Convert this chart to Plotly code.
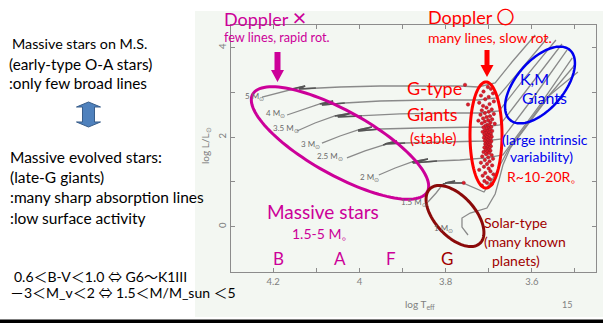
import numpy as np
import plotly.graph_objects as go

# ---------------- data: evolutionary tracks (log Teff, log L/Lsun) ----------------
track_masses = ["5", "4", "3.5", "3", "2.5", "2", "1.5", "1"]

teff_5 = [4.226, 4.189, 4.157, 4.126, 4.140, 4.101, 4.045, 3.952, 3.859, 3.767, 3.725, 3.685, 3.646, 3.592]
lum_5 = [2.898, 2.988, 3.077, 3.144, 3.077, 3.100, 3.122, 3.144, 3.144, 3.144, 3.122, 3.211, 3.680, 4.284]

teff_4 = [4.168, 4.126, 4.092, 4.061, 4.087, 4.034, 3.952, 3.836, 3.725, 3.681, 3.627, 3.562]
lum_4 = [2.496, 2.630, 2.742, 2.809, 2.720, 2.764, 2.809, 2.831, 2.831, 2.876, 3.502, 4.239]

teff_35 = [4.145, 4.103, 4.057, 4.017, 4.050, 3.994, 3.906, 3.790, 3.720, 3.676, 3.616, 3.544]
lum_35 = [2.139, 2.317, 2.474, 2.541, 2.452, 2.474, 2.519, 2.541, 2.541, 2.586, 3.324, 4.172]

teff_3 = [4.087, 4.045, 4.003, 3.971, 4.003, 3.952, 3.859, 3.767, 3.715, 3.674, 3.604, 3.530]
lum_3 = [1.870, 2.027, 2.161, 2.228, 2.139, 2.183, 2.206, 2.228, 2.228, 2.273, 3.144, 4.083]

teff_25 = [4.029, 3.987, 3.945, 3.913, 3.941, 3.894, 3.813, 3.743, 3.711, 3.669, 3.592, 3.518]
lum_25 = [1.536, 1.692, 1.825, 1.915, 1.848, 1.870, 1.893, 1.915, 1.915, 1.960, 2.943, 3.949]

teff_2 = [3.955, 3.917, 3.878, 3.841, 3.876, 3.820, 3.767, 3.706, 3.667, 3.581, 3.506]
lum_2 = [1.155, 1.312, 1.446, 1.513, 1.423, 1.468, 1.490, 1.536, 1.602, 2.720, 3.770]

teff_15 = [3.841, 3.822, 3.806, 3.778, 3.801, 3.760, 3.732, 3.711, 3.692, 3.674, 3.655, 3.569, 3.500]
lum_15 = [0.552, 0.753, 0.954, 1.021, 0.977, 0.977, 0.865, 0.775, 1.044, 1.379, 1.714, 2.831, 3.613]

teff_1 = [3.748, 3.762, 3.762, 3.743, 3.704, 3.685, 3.676, 3.667, 3.650, 3.558, 3.493]
lum_1 = [-0.185, -0.007, 0.194, 0.306, 0.418, 0.731, 1.044, 1.379, 1.759, 2.943, 3.457]

track_teff = [teff_5, teff_4, teff_35, teff_3, teff_25, teff_2, teff_15, teff_1]
track_lum = [lum_5, lum_4, lum_35, lum_3, lum_25, lum_2, lum_15, lum_1]
# index range of the main-sequence turn-off hook on each track
hook_ranges = [(2, 5), (2, 5), (2, 5), (2, 5), (2, 5), (2, 5), (2, 5), None]

# ---------------- data: G-type giant sample (log Teff, log L/Lsun) ----------------
giant_teff = [
    3.702, 3.695, 3.712, 3.690, 3.718, 3.700, 3.708, 3.688, 3.722, 3.698, 3.713, 3.705, 3.693, 3.716,
    3.700, 3.709, 3.688, 3.719, 3.697, 3.705, 3.713, 3.692, 3.701, 3.724, 3.709, 3.696, 3.716, 3.686,
    3.703, 3.698, 3.708, 3.694, 3.712, 3.701, 3.705, 3.697, 3.709, 3.692, 3.703, 3.714, 3.699, 3.706,
    3.695, 3.710, 3.702, 3.698, 3.707, 3.693, 3.704, 3.711, 3.700, 3.696, 3.706, 3.702, 3.709, 3.694,
    3.699, 3.705, 3.701, 3.697, 3.708, 3.703, 3.699, 3.706, 3.695, 3.702, 3.710, 3.698, 3.704, 3.700,
    3.707, 3.696, 3.703, 3.712, 3.699,
    3.706, 3.693, 3.715, 3.701, 3.690, 3.709, 3.698, 3.718, 3.704, 3.692, 3.711, 3.700, 3.722, 3.696,
    3.708, 3.689, 3.714, 3.702, 3.697, 3.710, 3.704, 3.693, 3.716,
    3.755, 3.748, 3.758,
]
giant_lum = [
    3.12, 3.08, 3.02, 2.98, 2.93, 2.90, 2.85, 2.80, 2.77, 2.74, 2.70, 2.66, 2.62, 2.60,
    2.57, 2.54, 2.52, 2.50, 2.47, 2.45, 2.42, 2.40, 2.38, 2.37, 2.35, 2.33, 2.31, 2.30,
    2.28, 2.26, 2.25, 2.23, 2.22, 2.20, 2.18, 2.17, 2.15, 2.14, 2.13, 2.12, 2.10, 2.09,
    2.07, 2.06, 2.05, 2.03, 2.02, 2.01, 2.00, 1.99, 1.97, 1.96, 1.95, 1.93, 1.92, 1.91,
    1.90, 1.88, 1.87, 1.86, 1.85, 1.83, 1.82, 1.81, 1.80, 1.78, 1.77, 1.76, 1.74, 1.72,
    1.71, 1.70, 1.68, 1.67, 1.65,
    1.62, 1.60, 1.57, 1.55, 1.52, 1.49, 1.46, 1.43, 1.40, 1.37, 1.34, 1.30, 1.27, 1.24,
    1.20, 1.17, 1.14, 1.10, 1.06, 1.02, 0.98, 0.95, 0.92,
    3.17, 2.73, 0.98,
]

# ---------------- axes ----------------
x_tickvals = [4.2, 4.0, 3.8, 3.6]
x_ticktext = ["4.2", "4", "3.8", "3.6"]
y_tickvals = [0, 2, 4]
y_ticktext = ["0", "2", "4"]

# ---------------- page geometry (pixels) ----------------
FIG_W, FIG_H = 603, 323
ML, MR, MT, MB = 231, 7, 25, 51
PW, PH = FIG_W - ML - MR, FIG_H - MT - MB

MAGENTA = "#cc0099"
RED = "#ff0000"
BLUE = "#0000ee"
DARKRED = "#a00000"
GRAY_TXT = "#808080"
TRACK = "#8a8a8a"
FONT = "Lato"
CJK = "Noto Sans CJK JP"


def to_paper(x, y):
    return (x - ML) / PW, (FIG_H - MB - y) / PH


def label(text, x, y, size, color, xanchor="center", angle=0, family=FONT):
    px, py = to_paper(x, y)
    return dict(text=text, x=px, y=py, xref="paper", yref="paper", showarrow=False,
                xanchor=xanchor, yanchor="middle", textangle=angle,
                font=dict(size=size, color=color, family=family))


def poly_path(points):
    pts = [to_paper(x, y) for x, y in points]
    return "M " + " L ".join(f"{a:.5f},{b:.5f}" for a, b in pts) + " Z"


def ellipse_path(cx, cy, a, b, ang_deg, n=120):
    t = np.linspace(0, 2 * np.pi, n, endpoint=False)
    c, s = np.cos(np.radians(ang_deg)), np.sin(np.radians(ang_deg))
    xs = cx + a * np.cos(t) * c - b * np.sin(t) * s
    ys = cy + a * np.cos(t) * s + b * np.sin(t) * c
    return poly_path(list(zip(xs, ys)))


def down_arrow(cx, y0, y1, head_len, shaft_w, head_w):
    hs, hh = shaft_w / 2, head_w / 2
    return poly_path([(cx - hs, y0), (cx + hs, y0), (cx + hs, y1 - head_len),
                      (cx + hh, y1 - head_len), (cx, y1), (cx - hh, y1 - head_len),
                      (cx - hs, y1 - head_len)])


def double_arrow(cx, y0, y1, head_len, shaft_w, head_w):
    hs, hh = shaft_w / 2, head_w / 2
    return poly_path([(cx, y0), (cx + hh, y0 + head_len), (cx + hs, y0 + head_len),
                      (cx + hs, y1 - head_len), (cx + hh, y1 - head_len), (cx, y1),
                      (cx - hh, y1 - head_len), (cx - hs, y1 - head_len),
                      (cx - hs, y0 + head_len), (cx - hh, y0 + head_len)])


fig = go.Figure()

# evolutionary tracks
for tx, ly in zip(track_teff, track_lum):
    fig.add_trace(go.Scatter(x=tx, y=ly, mode="lines", hoverinfo="skip",
                             line=dict(color=TRACK, width=1.3)))
for tx, ly, rng in zip(track_teff, track_lum, hook_ranges):
    if rng is None:
        continue
    i0, i1 = rng
    fig.add_trace(go.Scatter(x=tx[i0:i1 + 1], y=ly[i0:i1 + 1], mode="lines", hoverinfo="skip",
                             line=dict(color="#555555", width=1.4)))

# giant-star sample
fig.add_trace(go.Scatter(x=giant_teff, y=giant_lum, mode="markers", hoverinfo="skip",
                         marker=dict(size=3.4, color="#e01c28",
                                     line=dict(color="#9a1424", width=0.5))))

axis_common = dict(showline=True, linecolor="#8c8c8c", linewidth=1.3, mirror="ticks",
                   ticks="inside", ticklen=4, tickcolor="#8c8c8c", showgrid=False,
                   zeroline=False, tickfont=dict(size=9.5, color=GRAY_TXT, family=FONT))

fig.update_xaxes(range=[4.298, 3.451], tickmode="array", tickvals=x_tickvals,
                 ticktext=x_ticktext,
                 minor=dict(ticks="inside", ticklen=4, tickcolor="#8c8c8c",
                            tickvals=[4.1, 3.9, 3.7, 3.5], showgrid=False),
                 **axis_common)
fig.update_yaxes(range=[-1.012, 4.507], tickmode="array", tickvals=y_tickvals,
                 ticktext=y_ticktext, tickangle=-90,
                 minor=dict(ticks="inside", ticklen=4, tickcolor="#8c8c8c",
                            tickvals=[1, 3], showgrid=False),
                 **axis_common)

shapes = [
    # picture panel and bottom rule
    dict(type="rect", xref="paper", yref="paper", layer="below",
         x0=to_paper(195, 0)[0], x1=to_paper(603, 0)[0],
         y0=to_paper(0, 317)[1], y1=to_paper(0, 11)[1],
         fillcolor="#f3f7f2", line=dict(width=0)),
    dict(type="rect", xref="paper", yref="paper",
         x0=to_paper(0, 0)[0], x1=to_paper(603, 0)[0],
         y0=to_paper(0, 323.5)[1], y1=to_paper(0, 319.5)[1],
         fillcolor="#000000", line=dict(width=0)),
    # region outlines
    dict(type="path", xref="paper", yref="paper", path=ellipse_path(340, 143, 100, 32, 29.2),
         line=dict(color=MAGENTA, width=3)),
    dict(type="path", xref="paper", yref="paper", path=ellipse_path(486, 135, 16, 53, 0),
         line=dict(color=RED, width=3)),
    dict(type="path", xref="paper", yref="paper", path=ellipse_path(540, 85, 46, 24, -49.7),
         line=dict(color=BLUE, width=2.5)),
    dict(type="path", xref="paper", yref="paper", path=ellipse_path(455, 216, 37, 20, 47.8),
         line=dict(color="#8b0a0a", width=3)),
    # arrows
    dict(type="path", xref="paper", yref="paper", path=down_arrow(277.5, 52, 82, 12, 6, 13),
         fillcolor=MAGENTA, line=dict(width=0)),
    dict(type="path", xref="paper", yref="paper", path=down_arrow(487, 50, 77, 12, 5, 13),
         fillcolor=RED, line=dict(width=0)),
    dict(type="path", xref="paper", yref="paper", path=double_arrow(88.5, 102, 127, 5, 12, 24),
         fillcolor="#4f81bd", line=dict(color="#385d8a", width=1)),
]

mass_labels = [("5", 254, 96), ("4", 275, 114), ("3.5", 286, 128), ("3", 310, 144),
               ("2.5", 330, 157), ("2", 369, 177), ("1.5", 414, 203), ("1", 443, 228)]

annotations = [
    # left-hand notes
    label("Massive stars on M.S.", 10, 44, 14.3, "#000", "left"),
    label("(early-type O-A stars)", 7, 64, 15.3, "#000", "left"),
    label(":only few broad lines", 7, 83, 15.3, "#000", "left"),
    label("Massive evolved stars:", 8, 157, 15.5, "#000", "left"),
    label("(late-G giants)", 8, 177, 15.5, "#000", "left"),
    label(":many sharp absorption lines", 8, 197, 15.5, "#000", "left"),
    label(":low surface activity", 8, 218, 15.5, "#000", "left"),
    label("0.6＜B-V＜1.0 ⇔ G6～K1III", 12, 276, 14, "#000", "left", family=f"{FONT}, {CJK}"),
    label("－3＜M_v＜2 ⇔ 1.5＜M/M_sun ＜5", 8, 292, 14, "#000", "left", family=f"{FONT}, {CJK}"),
    # diagram notes
    label("Doppler <span style='font-size:24px'>×</span>", 222, 17, 18, MAGENTA, "left"),
    label("few lines, rapid rot.", 222, 37, 12.7, MAGENTA, "left"),
    label("Doppler 〇", 426, 17, 18, RED, "left", family=f"{FONT}, {CJK}"),
    label("many lines, slow rot.", 426, 37, 14, RED, "left"),
    label("G-type", 405, 88, 18, RED, "left"),
    label("Giants", 405, 114, 18, RED, "left"),
    label("(stable)", 408, 138, 15, RED, "left"),
    label("K,M", 518, 78, 16, BLUE, "left"),
    label("Giants", 520, 97, 16, BLUE, "left"),
    label("(large intrinsic", 500, 139, 14, BLUE, "left"),
    label("variability)", 508, 156, 14, BLUE, "left"),
    label("R~10-20R。", 505, 176, 14, RED, "left"),
    label("Solar-type", 482, 222, 14, DARKRED, "left"),
    label("(many known", 482, 241, 14, DARKRED, "left"),
    label("planets)", 490, 260, 14, DARKRED, "left"),
    label("Massive stars", 265, 211, 19, MAGENTA, "left"),
    label("1.5-5 M。", 290, 233, 14, MAGENTA, "left"),
    label("B", 278, 258, 17, MAGENTA),
    label("A", 340, 258, 17, MAGENTA),
    label("F", 391, 258, 17, MAGENTA),
    label("G", 447, 258, 17, DARKRED),
    # axis titles and page number
    label("log L/L<sub>⊙</sub>", 205, 146, 10, GRAY_TXT, angle=-90),
    label("log T<sub>eff</sub>", 420, 304, 10, GRAY_TXT),
    label("15", 567, 304, 9, GRAY_TXT),
]
for m, x, y in mass_labels:
    annotations.append(label(f"{m} M<sub>⊙</sub>", x, y, 8, "#6a6a6a"))

fig.update_layout(
    width=FIG_W, height=FIG_H, showlegend=False,
    margin=dict(l=ML, r=MR, t=MT, b=MB, pad=0),
    paper_bgcolor="#ffffff", plot_bgcolor="rgba(0,0,0,0)",
    shapes=shapes, annotations=annotations,
)

fig.write_html("out.html")
